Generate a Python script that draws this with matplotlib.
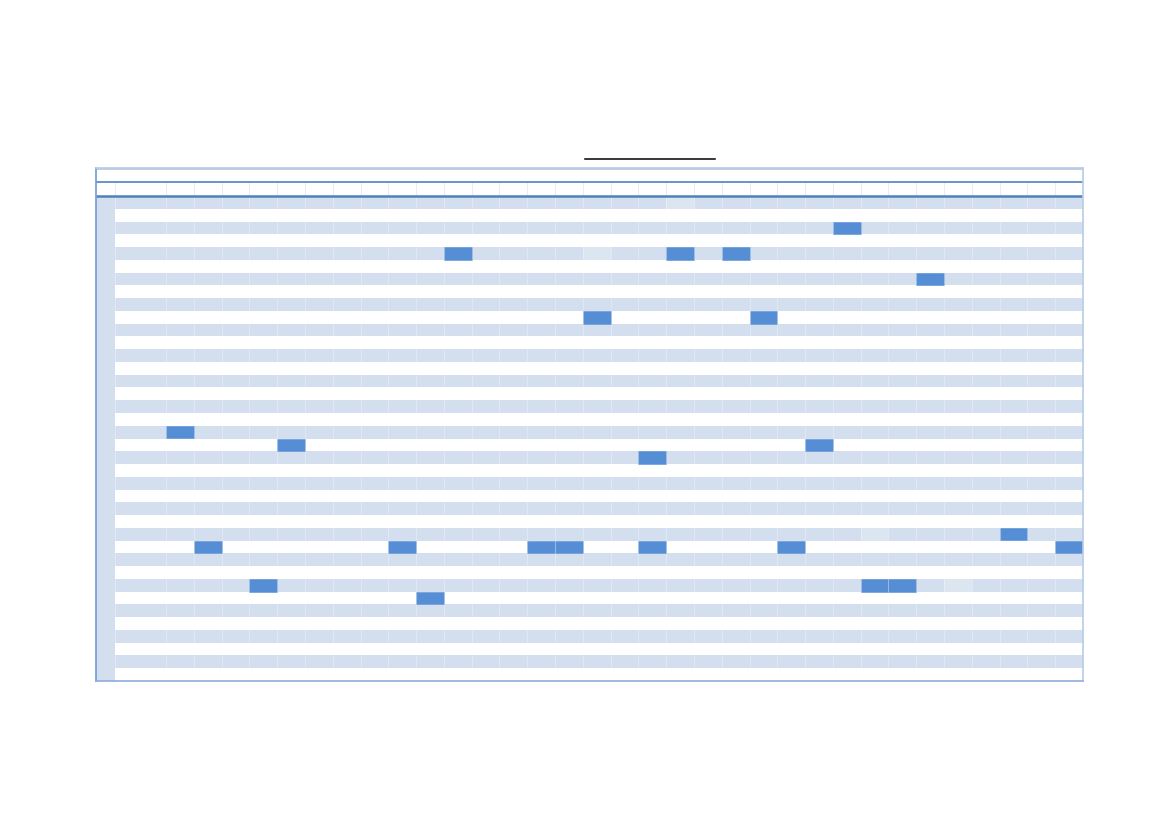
import matplotlib.pyplot as plt
from matplotlib.lines import Line2D

# grid size
n_rows = 38
n_days = 33

# filled cells (row, day column)
task_rows = [2, 4, 4, 4, 6, 9, 9, 18, 19, 19, 20, 26, 27, 27, 27, 27, 27, 27, 27, 30, 30, 30, 31]
task_days = [24, 10, 18, 20, 27, 15, 21, 0, 4, 23, 17, 30, 1, 8, 13, 14, 17, 22, 32, 3, 25, 26, 9]

# pale highlighted cells (row, day column)
pale_rows = [0, 4, 26, 30]
pale_days = [18, 15, 25, 28]

STRIPE = '#D3DFEF'
BAR = '#558ED5'
PALE = '#DCE6F1'
DARK = '#4F81BD'
LIGHT = '#B8CCE4'


def main():
    fig = plt.figure(figsize=(11.69, 8.27), dpi=100)
    ax = fig.add_axes([96 / 1169, 1 - 681 / 827, 987 / 1169, 513 / 827])

    # column layout: narrow index column, wide name column, then days
    narrow = 0.684
    wide = 1.835
    x0 = narrow + wide
    x_end = x0 + n_days

    # striped rows
    for r in range(n_rows):
        if r % 2 == 0:
            ax.barh(r, x_end - narrow, left=narrow, height=1, color=STRIPE, linewidth=0)
    # narrow left column, always filled
    ax.barh(range(n_rows), narrow, left=0, height=1, color=STRIPE, linewidth=0)

    # pale cells and task cells
    ax.barh(pale_rows, 1, left=[x0 + d for d in pale_days], height=1, color=PALE, linewidth=0)
    ax.barh(task_rows, 1, left=[x0 + d for d in task_days], height=0.98,
            color=BAR, edgecolor='#6A9BDB', linewidth=0.5)

    # faint column separators
    xs = [narrow] + [x0 + c for c in range(n_days)]
    ax.vlines(xs, -0.5, n_rows - 0.5, color='white', alpha=0.3, linewidth=0.8)
    ax.vlines(xs, -1.6, -0.5, color='#E6EDF6', linewidth=0.7)

    # header lines
    ax.hlines(-2.7, 0, x_end, color=LIGHT, linewidth=2)
    ax.hlines(-1.6, 0, x_end, color=DARK, linewidth=1.2)
    ax.hlines(-0.5, 0, x_end, color=DARK, linewidth=1.8)

    ax.set_xlim(0, x_end)
    ax.set_ylim(n_rows - 0.5, -2.7)
    ax.set_xticks([])
    ax.set_yticks([])
    for side in ['top', 'right', 'bottom']:
        ax.spines[side].set_color(LIGHT)
        ax.spines[side].set_linewidth(1.2)
    ax.spines['bottom'].set_color('#8DADDD')
    ax.spines['left'].set_color('#6F9AD3')
    ax.spines['left'].set_linewidth(1.2)

    # underlined (empty) title
    fig.add_artist(Line2D([585 / 1169, 715 / 1169], [1 - 159 / 827, 1 - 159 / 827],
                          color='black', linewidth=1.1))

    fig.savefig('out.png', dpi=100)


if __name__ == "__main__":
    main()
